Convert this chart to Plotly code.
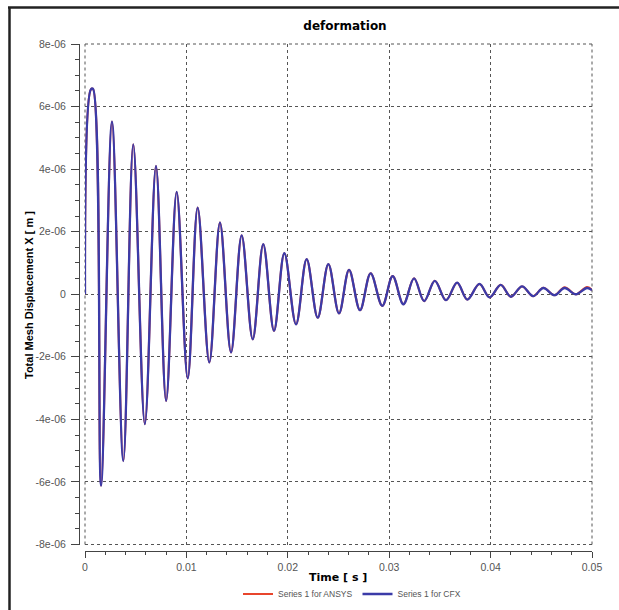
import plotly.graph_objects as go

# time steps (s)
time_s = [0, 0.00058, 0.00078, 0.00158, 0.00266, 0.00378, 0.00476, 0.0059, 0.0070, 0.0080,
          0.00904, 0.01013, 0.01111, 0.01226, 0.01331, 0.0144, 0.01545, 0.01654, 0.01758, 0.01864,
          0.01966, 0.02081, 0.02186, 0.02295, 0.0240, 0.02505, 0.02604, 0.02712, 0.02817, 0.02932,
          0.03034, 0.0314, 0.03245, 0.03345, 0.0345, 0.0356, 0.0367, 0.0377, 0.0389, 0.0399,
          0.0410, 0.0420, 0.0431, 0.0442, 0.0452, 0.0463, 0.0473, 0.0484, 0.0495, 0.05]

# displacement in micrometres (x1e-6 m)
cfx_um = [0, 6.55, 6.57, -6.12, 5.52, -5.33, 4.79, -4.15, 4.10, -3.41,
          3.27, -2.69, 2.77, -2.18, 2.29, -1.86, 1.88, -1.44, 1.60, -1.17,
          1.31, -0.96, 1.12, -0.75, 0.96, -0.61, 0.78, -0.51, 0.67, -0.37,
          0.58, -0.32, 0.51, -0.22, 0.43, -0.19, 0.37, -0.17, 0.33, -0.10,
          0.30, -0.08, 0.25, -0.06, 0.20, -0.03, 0.20, 0.0, 0.20, 0.13]

ansys_um = [0, 6.55, 6.57, -6.12, 5.52, -5.33, 4.79, -4.15, 4.10, -3.41,
            3.27, -2.69, 2.77, -2.18, 2.29, -1.86, 1.88, -1.44, 1.60, -1.17,
            1.31, -0.96, 1.12, -0.75, 0.96, -0.61, 0.78, -0.51, 0.67, -0.37,
            0.58, -0.32, 0.51, -0.22, 0.43, -0.19, 0.37, -0.17, 0.33, -0.10,
            0.30, -0.08, 0.25, -0.06, 0.21, -0.03, 0.22, 0.0, 0.23, 0.14]

x_tick_vals = [0, 0.01, 0.02, 0.03, 0.04, 0.05]
x_tick_text = ["0", "0.01", "0.02", "0.03", "0.04", "0.05"]
y_tick_vals = [8e-06, 6e-06, 4e-06, 2e-06, 0, -2e-06, -4e-06, -6e-06, -8e-06]
y_tick_text = ["8e-06", "6e-06", "4e-06", "2e-06", "0", "-2e-06", "-4e-06", "-6e-06", "-8e-06"]

W, H = 619, 610
ML, MR, MT, MB = 79, 27, 44, 59
PW, PH = W - ML - MR, H - MT - MB


def px(x):  # pixel -> paper x
    return (x - ML) / PW


def py(y):  # pixel -> paper y
    return (H - MB - y) / PH


fig = go.Figure()

fig.add_trace(go.Scatter(
    x=time_s, y=[v * 1e-6 for v in ansys_um],
    mode="lines", name="Series 1 for ANSYS",
    line=dict(color="#e8452c", width=2.1, shape="spline")
))
fig.add_trace(go.Scatter(
    x=time_s, y=[v * 1e-6 for v in cfx_um],
    mode="lines", name="Series 1 for CFX",
    line=dict(color="#3b3ba8", width=2.3, shape="spline")
))

tickfont = dict(family="Liberation Sans", size=10.5, color="#555555")
grid = dict(showgrid=True, gridcolor="#555555", griddash="dot", gridwidth=1, zeroline=False)

fig.update_layout(
    width=W, height=H,
    margin=dict(l=ML, r=MR, t=MT, b=MB, autoexpand=False),
    paper_bgcolor="white", plot_bgcolor="white",
    title=dict(text="<b>deformation</b>", x=345 / W, xanchor="center", y=1 - 26 / H, yanchor="middle",
               font=dict(family="DejaVu Sans", size=12, color="black")),
    xaxis=dict(
        domain=[px(85), 1], anchor="free", position=0,
        range=[0, 0.05], tickmode="array", tickvals=x_tick_vals, ticktext=x_tick_text,
        ticks="outside", ticklen=6, tickcolor="#444444", tickfont=tickfont,
        showline=True, linecolor="#444444", linewidth=1,
        minor=dict(dtick=0.002, tick0=0, ticks="outside", ticklen=3, tickcolor="#444444", showgrid=False),
        **grid
    ),
    yaxis=dict(
        domain=[py(544.5), 1], anchor="free", position=0,
        range=[-8e-06, 8e-06], tickmode="array", tickvals=y_tick_vals, ticktext=y_tick_text,
        ticks="outside", ticklen=8, tickcolor="#444444", tickfont=tickfont, ticklabelstandoff=3,
        showline=True, linecolor="#444444", linewidth=1,
        minor=dict(dtick=0.5e-06, tick0=0, ticks="outside", ticklen=4, tickcolor="#444444", showgrid=False),
        **grid
    ),
    legend=dict(orientation="h", x=px(352), xanchor="center", y=py(594), yanchor="middle",
                itemwidth=30, font=dict(family="Liberation Sans", size=8.5, color="#555555"),
                bgcolor="rgba(0,0,0,0)"),
    showlegend=True,
)

# plotly drops grid lines at the range edges - draw them as dotted borders
gx0, gy0 = px(85), py(544.5)
for x0, x1, y0, y1 in [(gx0, 1, 1, 1), (gx0, 1, gy0, gy0), (gx0, gx0, gy0, 1), (1, 1, gy0, 1)]:
    fig.add_shape(type="line", xref="paper", yref="paper", x0=x0, x1=x1, y0=y0, y1=y1,
                  line=dict(color="#555555", width=1, dash="dot"), layer="below")

# axis titles as annotations so they sit where the original has them
fig.add_annotation(x=px(29), y=py(295), xref="paper", yref="paper", xanchor="center", yanchor="middle",
                   text="<b>Total Mesh Displacement X [ m ]</b>", textangle=-90, showarrow=False,
                   font=dict(family="Liberation Sans", size=11, color="black"))
fig.add_annotation(x=px(338), y=py(577), xref="paper", yref="paper", xanchor="center", yanchor="middle",
                   text="<b>Time [ s ]</b>", showarrow=False,
                   font=dict(family="DejaVu Sans", size=11, color="black"))

# frame around the picture (top and left edges)
fig.add_shape(type="line", xref="paper", yref="paper", x0=px(8), x1=px(619), y0=py(7.5), y1=py(7.5),
              line=dict(color="#222222", width=2.5))
fig.add_shape(type="line", xref="paper", yref="paper", x0=px(9.5), x1=px(9.5), y0=py(7), y1=py(610),
              line=dict(color="#222222", width=2.5))

# page has a default 8px body margin, drop it so the figure fills the window
fig.write_html("out.html", config={"displayModeBar": False},
               post_script="document.body.style.margin='0';")
